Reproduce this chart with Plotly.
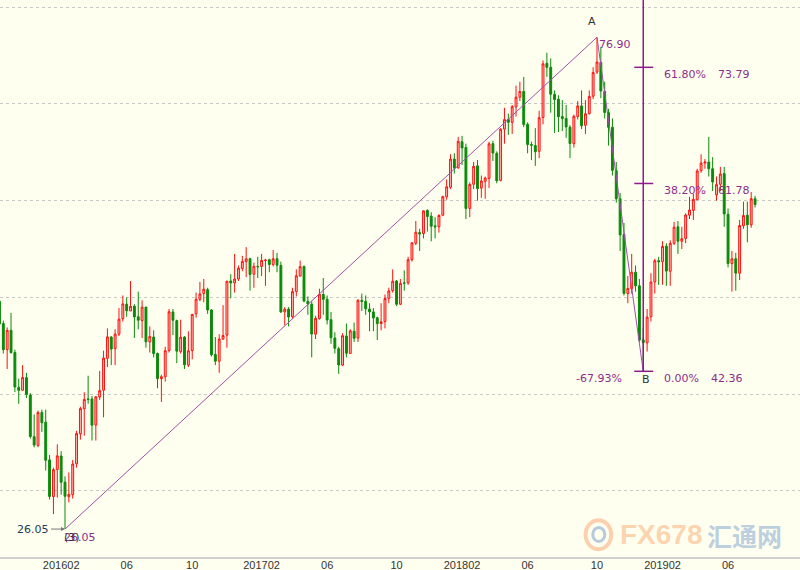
import pandas as pd
import plotly.graph_objects as go

# Weekly candles, first week starting 2015-10-12
start_week = "2015-10-12"
opens = [49.6,47.3,44.6,46.6,44.3,40.7,40.4,41.7,39.9,35.6,34.7,38.1,37.1,33.2,29.4,32.2,33.6,30.9,29.4,29.6,
         32.8,35.9,38.5,39.5,39.5,36.8,39.7,40.4,43.7,45.9,44.7,46.2,47.8,49.3,48.6,49.1,48.0,47.6,49.0,45.4,
         45.9,44.2,41.6,41.8,44.5,48.5,47.6,44.4,45.9,43.0,44.5,48.3,49.8,50.4,50.8,48.7,44.1,43.4,45.7,46.1,
         51.7,51.5,51.9,53.0,53.7,54.0,52.4,53.2,53.2,53.8,53.9,53.4,54.0,53.3,48.5,48.8,48.0,50.6,52.2,53.2,
         49.6,49.3,46.2,47.8,50.3,49.8,47.7,45.8,44.7,43.0,46.0,44.2,46.5,45.8,49.7,49.6,48.8,48.5,47.9,47.3,
         47.5,49.9,50.7,51.7,49.3,51.5,51.5,53.9,55.6,56.7,56.6,59.0,58.4,57.4,57.3,58.5,60.4,61.4,64.3,63.4,
         66.1,65.5,59.2,61.7,63.6,61.3,62.0,62.3,65.9,64.9,62.1,67.4,68.4,68.1,69.7,70.7,71.3,67.9,65.8,65.7,
         65.1,68.6,74.2,73.8,71.0,70.5,68.7,68.5,67.6,65.9,68.7,69.8,67.8,69.0,70.8,73.3,74.3,71.3,69.1,67.6,
         63.1,60.2,56.5,50.4,50.9,52.6,51.2,45.6,45.3,48.0,51.6,53.8,53.7,55.3,52.7,55.6,57.3,55.8,56.1,58.5,
         59.0,60.1,63.1,63.9,64.0,63.3,60.6,61.7,62.8,58.6,53.5,54.0,52.5,57.4,58.5,57.5,60.2]
highs = [49.9,47.6,46.9,48.4,44.6,41.6,43.0,42.2,40.1,37.9,38.3,38.4,38.4,33.7,32.4,34.8,34.1,31.5,31.9,33.2,
         36.2,38.7,40.2,41.9,39.8,39.8,42.4,44.5,46.8,46.0,46.7,48.9,50.2,50.0,51.7,49.3,50.6,49.7,49.0,47.0,
         46.6,44.3,42.0,44.9,48.8,48.8,47.7,47.7,46.0,46.5,48.3,50.5,51.6,51.9,51.0,48.8,45.9,46.2,49.2,51.7,
         52.4,54.5,53.3,54.3,55.2,54.1,53.6,54.2,54.5,54.0,54.0,54.9,54.6,53.7,49.0,49.0,51.0,52.9,53.8,53.3,
         50.1,49.6,48.1,50.9,52.0,50.2,48.5,46.4,44.9,46.3,47.3,46.7,47.4,49.8,50.4,50.2,49.4,48.9,48.0,49.4,
         50.3,51.0,52.9,51.8,51.9,52.8,54.2,55.7,57.9,57.1,59.0,59.1,58.8,58.3,58.6,60.5,62.2,64.8,64.9,66.6,
         66.7,65.9,61.9,64.0,64.2,62.6,62.5,66.1,66.2,65.1,67.5,69.6,69.0,69.9,71.9,72.3,72.8,68.1,66.1,67.5,
         69.3,74.5,75.3,74.7,71.4,70.9,70.4,69.9,67.8,68.9,70.3,71.4,70.4,71.4,73.8,76.90,75.9,72.3,69.5,68.5,
         64.0,60.8,57.7,52.2,54.5,53.3,51.9,46.8,48.8,52.5,54.0,54.2,55.8,55.6,55.9,57.8,57.9,57.3,58.7,60.4,
         60.7,63.3,64.8,64.3,66.6,64.5,62.5,63.5,63.5,59.2,54.8,54.6,58.0,59.9,59.9,60.9,60.5]
lows = [45.9,44.2,42.6,44.2,40.2,39.0,40.4,39.6,35.4,34.5,34.5,36.1,32.1,29.1,27.6,29.3,29.6,26.05,28.8,29.2,
        32.4,35.3,35.7,39.0,35.2,35.2,39.4,37.6,42.8,43.0,43.0,46.0,47.5,48.0,48.6,45.8,46.7,45.8,44.8,44.3,
        43.8,40.6,39.2,41.3,44.3,46.1,43.2,44.2,42.6,42.8,43.6,47.9,49.6,49.5,48.3,43.9,43.0,42.2,45.6,44.8,
        49.9,50.5,51.7,52.7,52.1,50.7,51.0,52.0,52.2,51.2,52.6,53.2,52.6,48.4,47.1,47.0,47.8,50.1,52.2,49.5,
        48.2,43.8,45.7,47.7,48.2,47.2,45.2,44.2,42.1,42.9,43.8,44.2,45.4,45.4,48.6,48.2,46.5,46.5,45.6,46.6,
        46.8,49.4,50.5,49.1,49.2,50.7,51.3,53.7,55.4,54.8,56.1,56.8,55.8,56.1,56.7,58.4,60.1,61.2,62.8,63.3,
        63.7,58.1,58.3,61.2,60.0,60.3,60.2,61.3,64.1,61.8,62.0,65.9,66.8,66.9,68.7,70.3,67.6,64.9,64.2,63.6,
        64.4,67.9,72.8,69.1,67.0,67.1,67.2,66.5,64.4,65.5,68.4,67.4,66.9,68.9,70.5,73.1,70.6,68.5,65.7,62.6,
        59.8,54.8,50.2,49.4,50.4,50.6,45.4,42.36,44.4,47.5,50.4,51.3,51.3,51.2,51.2,55.4,54.5,55.0,55.6,58.1,
        58.0,60.1,62.9,63.3,62.5,61.0,60.0,61.0,57.3,53.1,50.6,50.7,51.8,57.1,55.7,57.2,59.3]
closes = [47.26,44.60,46.59,44.29,40.74,40.39,41.71,39.97,35.62,34.73,38.10,37.04,33.16,29.42,32.19,33.62,30.89,29.44,29.64,32.78,
          35.92,38.50,39.44,39.46,36.79,39.72,40.36,43.73,45.92,44.66,46.21,47.75,49.33,48.62,49.07,47.98,47.64,48.99,45.41,45.95,
          44.19,41.60,41.80,44.49,48.52,47.64,44.44,45.88,43.03,44.48,48.24,49.81,50.35,50.85,48.70,44.07,43.41,45.69,46.06,51.68,
          51.50,51.90,53.02,53.72,53.99,52.37,53.22,53.17,53.83,53.86,53.40,53.99,53.33,48.49,48.78,47.97,50.60,52.24,53.18,49.62,
          49.33,46.22,47.84,50.33,49.80,47.66,45.83,44.74,43.01,46.04,44.23,46.54,45.77,49.71,49.58,48.82,48.51,47.87,47.29,47.48,
          49.89,50.66,51.67,49.29,51.45,51.47,53.90,55.64,56.74,56.55,58.95,58.36,57.36,57.30,58.47,60.42,61.44,64.30,63.37,66.14,
          65.45,59.20,61.68,63.55,61.25,62.04,62.34,65.88,64.94,62.06,67.39,68.38,68.10,69.72,70.70,71.28,67.88,65.81,65.74,65.06,
          68.58,74.15,73.80,71.01,70.46,68.69,68.49,67.63,65.91,68.72,69.80,67.75,68.99,70.78,73.25,74.34,71.34,69.12,67.59,63.14,
          60.19,56.46,50.42,50.93,52.61,51.20,45.59,45.33,47.96,51.59,53.80,53.69,55.26,52.72,55.59,57.26,55.80,56.07,58.52,59.04,
          60.14,63.08,63.89,64.00,63.30,61.94,61.66,62.76,58.63,53.50,53.99,52.51,57.43,58.47,57.51,60.21,59.60]

tick_dates = ["2016-02-01", "2016-05-30", "2016-09-26", "2017-01-30", "2017-05-29", "2017-10-02",
              "2018-01-29", "2018-05-28", "2018-10-01", "2019-01-28", "2019-05-27"]
tick_labels = ["201602", "06", "10", "201702", "06", "10", "201802", "06", "10", "201902", "06"]

low_date, low_price = "2016-02-08", 26.05
a_date, a_price = "2018-10-01", 76.90
b_date, b_price = "2018-12-24", 42.36
fib_levels = [73.79, 61.78, 42.36]
fib_pcts = ["61.80%", "38.20%", "0.00%"]
left_pct = "-67.93%"

n = len(closes)
assert len(opens) == n and len(highs) == n and len(lows) == n
dates = pd.date_range(start_week, periods=n, freq="7D")

Y_RANGE = [23.16, 80.75]
PURPLE_T = "#8C2D8C"
PURPLE_L = "#A050A8"
PURPLE_V = "#8B1A8B"
BG = "#FFFFF0"

fig = go.Figure()
fig.add_trace(go.Candlestick(
    x=dates, open=opens, high=highs, low=lows, close=closes,
    increasing=dict(line=dict(color="#FF1010", width=1), fillcolor="rgba(255,120,120,0.5)"),
    decreasing=dict(line=dict(color="#0A8A0A", width=1), fillcolor="#0A8A0A"),
    whiskerwidth=0, showlegend=False, hoverinfo="skip"))

# trend lines low->A->B
fig.add_trace(go.Scatter(x=[low_date, a_date, b_date], y=[low_price, a_price, b_price],
                         mode="lines", line=dict(color=PURPLE_L, width=1),
                         showlegend=False, hoverinfo="skip"))

px_per_day = 3.855 / 7.0
def shift(d, px):
    return pd.Timestamp(d) + pd.Timedelta(days=px / px_per_day)

# vertical line at B up to the top
fig.add_shape(type="line", x0=b_date, x1=b_date, y0=b_price, y1=Y_RANGE[1],
              line=dict(color=PURPLE_V, width=1.5))
for lv in fib_levels:
    fig.add_shape(type="line", x0=shift(b_date, -9), x1=shift(b_date, 10), y0=lv, y1=lv,
                  line=dict(color=PURPLE_V, width=1.5))

font_t = dict(family="DejaVu Sans", size=11, color=PURPLE_T)
ann = []
for lv, pc in zip(fib_levels, fib_pcts):
    ann.append(dict(x=b_date, y=lv, text=pc, showarrow=False, xanchor="left",
                    xshift=19, yshift=-7, font=font_t))
    ann.append(dict(x=b_date, y=lv, text=f"{lv:.2f}", showarrow=False, xanchor="left",
                    xshift=(66 if lv == b_price else 73), yshift=-7, font=font_t))
ann.append(dict(x=b_date, y=b_price, text=left_pct, showarrow=False, xanchor="right",
                xshift=-19, yshift=-7, font=font_t))
ann.append(dict(x=b_date, y=b_price, text="B", showarrow=False, xanchor="center",
                xshift=3, yshift=-8, font=dict(family="DejaVu Sans", size=11, color="#333333")))
ann.append(dict(x=a_date, y=a_price, text="A", showarrow=False, xanchor="center",
                xshift=-5, yshift=16, font=dict(family="DejaVu Sans", size=11, color="#333333")))
ann.append(dict(x=a_date, y=a_price, text=f"{a_price:.2f}", showarrow=False, xanchor="left",
                xshift=0, yshift=-7, font=font_t))
ann.append(dict(x=low_date, y=low_price, text=f"{low_price:.2f}", showarrow=True,
                ax=-14, ay=0, xanchor="right", arrowhead=2, arrowsize=0.8, arrowwidth=1,
                arrowcolor="#777777", font=dict(family="DejaVu Sans", size=11, color="#1F3A5A")))
ann.append(dict(x=low_date, y=low_price, text=f"{low_price:.2f}", showarrow=False, xanchor="left",
                xshift=-3, yshift=-8, font=font_t))
ann.append(dict(x=low_date, y=low_price, text="(3)", showarrow=False, xanchor="left",
                xshift=-3, yshift=-8, font=dict(family="DejaVu Sans", size=11, color="#333333")))

# watermark
ann.append(dict(x=0.772, y=0.04, xref="paper", yref="paper", text="<b>FX678</b>", showarrow=False,
                xanchor="left", yanchor="middle",
                font=dict(family="Liberation Sans", size=28, color="rgba(250,175,120,0.55)")))
ann.append(dict(x=0.881, y=0.04, xref="paper", yref="paper", text="<b>汇通网</b>", showarrow=False,
                xanchor="left", yanchor="middle",
                font=dict(family="Noto Sans CJK SC", size=25, color="rgba(120,160,205,0.5)")))
fig.add_shape(type="circle", xref="paper", yref="paper", x0=0.732, x1=0.764, y0=0.014, y1=0.066,
              line=dict(color="rgba(250,170,120,0.55)", width=4))
fig.add_shape(type="circle", xref="paper", yref="paper", x0=0.741, x1=0.756, y0=0.028, y1=0.053,
              line=dict(color="rgba(120,160,205,0.55)", width=3))

x0 = pd.Timestamp(low_date) - pd.Timedelta(days=65 / px_per_day)
x1 = x0 + pd.Timedelta(days=800 / px_per_day)

fig.update_layout(
    width=800, height=570, margin=dict(l=0, r=0, t=0, b=13),
    paper_bgcolor=BG, plot_bgcolor=BG, annotations=ann,
    xaxis=dict(type="date", range=[x0, x1], rangeslider=dict(visible=False), showgrid=False,
               tickmode="array", tickvals=tick_dates, ticktext=tick_labels, ticks="",
               ticklabelstandoff=-3,
               tickfont=dict(family="Liberation Sans", size=11, color="#333333"),
               showline=True, linecolor="#D0D0D0", linewidth=2, zeroline=False),
    yaxis=dict(range=Y_RANGE, tick0=0, dtick=10, showticklabels=False, showgrid=True,
               gridcolor="#C8C8C8", griddash="dot", gridwidth=1, zeroline=False, ticks=""),
)
fig.write_html("out.html", config={"displayModeBar": False},
               post_script="document.body.style.margin='0';document.body.style.overflow='hidden';")
